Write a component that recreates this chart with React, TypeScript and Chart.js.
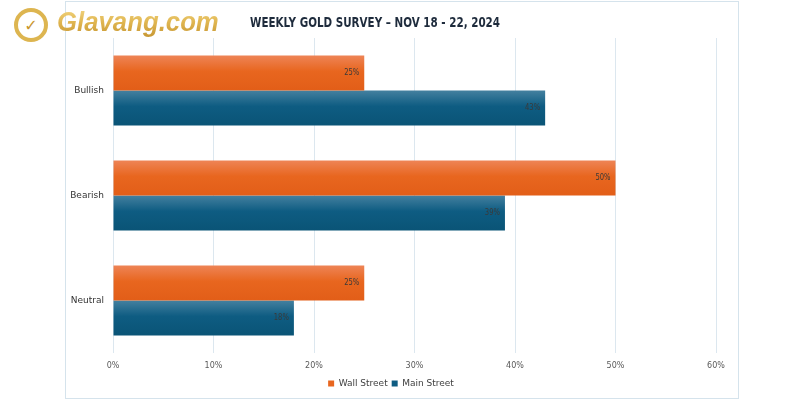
import React, { useEffect, useRef } from "react";
import { Chart, registerables } from "chart.js";

Chart.register(...registerables);

const categories = ["Bullish", "Bearish", "Neutral"];
const wallStreet = [25, 50, 25];
const mainStreet = [43, 39, 18];
const seriesNames = ["Wall Street", "Main Street"];
const seriesColors = ["#E8661F", "#0E5C82"];
const xTicks = [0, 10, 20, 30, 40, 50, 60];
const titleText = "WEEKLY GOLD SURVEY \u2013 NOV 18 - 22, 2024";

const gradStops = [
  ["#EE8456", "#E8661F", "#E25E18"],
  ["#44809F", "#0E5C82", "#0A5476"],
];

const FONT = "'DejaVu Sans', sans-serif";

const gradientPlugin = {
  id: "barGradient",
  beforeDatasetsDraw(chart: any) {
    const ctx = chart.ctx;
    chart.data.datasets.forEach((_: any, di: number) => {
      const meta = chart.getDatasetMeta(di);
      meta.data.forEach((bar: any) => {
        const top = bar.y - bar.height / 2;
        const bot = bar.y + bar.height / 2;
        const g = ctx.createLinearGradient(0, top, 0, bot);
        g.addColorStop(0, gradStops[di][0]);
        g.addColorStop(0.45, gradStops[di][1]);
        g.addColorStop(1, gradStops[di][2]);
        bar.options = Object.assign({}, bar.options, { backgroundColor: g });
      });
    });
  },
};

const labelPlugin = {
  id: "valueLabels",
  afterDatasetsDraw(chart: any) {
    const ctx = chart.ctx;
    ctx.save();
    ctx.font = "8px " + FONT;
    ctx.fillStyle = "#3A3A3A";
    ctx.textAlign = "right";
    ctx.textBaseline = "middle";
    chart.data.datasets.forEach((ds: any, di: number) => {
      const meta = chart.getDatasetMeta(di);
      meta.data.forEach((bar: any, i: number) => {
        ctx.save();
        ctx.translate(bar.x - 5, bar.y);
        ctx.scale(0.85, 1);
        ctx.fillText(ds.data[i] + "%", 0, 0);
        ctx.restore();
      });
    });
    ctx.restore();
  },
};

const titlePlugin = {
  id: "customTitle",
  afterDraw(chart: any) {
    const ctx = chart.ctx;
    ctx.save();
    ctx.font = "bold 14px " + FONT;
    ctx.fillStyle = "#1E2B3C";
    ctx.textAlign = "center";
    ctx.textBaseline = "middle";
    const w = ctx.measureText(titleText).width;
    const target = 250;
    ctx.translate(309, 21);
    ctx.scale(Math.min(1, target / w), 1);
    ctx.fillText(titleText, 0, 0);
    ctx.restore();
  },
};

export default function App() {
  const ref = useRef<HTMLCanvasElement>(null);
  useEffect(() => {
    if (!ref.current) return;
    const chart = new Chart(ref.current, {
      type: "bar",
      data: {
        labels: categories,
        datasets: seriesNames.map((name, i) => ({
          label: name,
          data: i === 0 ? wallStreet : mainStreet,
          backgroundColor: () => seriesColors[i],
          barPercentage: 1,
          categoryPercentage: 0.667,
        })),
      },
      options: {
        indexAxis: "y",
        animation: false,
        responsive: false,
        maintainAspectRatio: false,
        layout: { padding: { top: 36, right: 22, left: 0, bottom: 0 } },
        plugins: {
          title: { display: false },
          tooltip: { enabled: false },
          legend: {
            position: "bottom",
            labels: {
              boxWidth: 6,
              boxHeight: 6,
              padding: 4,
              color: "#404040",
              generateLabels: (chart: any) =>
                chart.data.datasets.map((ds: any, i: number) => ({
                  text: ds.label,
                  fillStyle: seriesColors[i],
                  strokeStyle: seriesColors[i],
                  lineWidth: 0,
                  datasetIndex: i,
                  fontColor: "#404040",
                })),
              font: { size: 9, family: FONT },
            },
          },
        },
        scales: {
          x: {
            min: 0,
            max: 60,
            afterBuildTicks(scale: any) {
              scale.ticks = xTicks.map((v) => ({ value: v }));
            },
            afterFit(scale: any) {
              scale.height = 22;
            },
            ticks: {
              callback: (v: any) => v + "%",
              color: "#595959",
              padding: 8,
              font: { size: 8, family: FONT },
            },
            grid: { color: "#DCE7EF", drawTicks: false },
            border: { display: false },
          },
          y: {
            afterFit(scale: any) {
              scale.width = 47;
            },
            ticks: {
              color: "#333333",
              padding: 9,
              font: { size: 9, family: FONT },
            },
            grid: { display: false, drawTicks: false },
            border: { display: false },
          },
        },
      },
      plugins: [gradientPlugin, labelPlugin, titlePlugin],
    } as any);
    return () => chart.destroy();
  }, []);

  return (
    <div style={{ position: "fixed", left: 0, top: 0, width: 800, height: 400, background: "#fff" }}>
      <div
        style={{
          position: "absolute",
          left: 65,
          top: 1,
          width: 672,
          height: 396,
          border: "1px solid #D5E3EC",
        }}
      >
        <canvas ref={ref} width={672} height={396} style={{ display: "block" }} />
      </div>
      <div
        style={{
          position: "absolute",
          left: 14,
          top: 8,
          width: 34,
          height: 34,
          borderRadius: "50%",
          border: "4px solid #DDB550",
          boxSizing: "border-box",
          display: "flex",
          alignItems: "center",
          justifyContent: "center",
          color: "#C9962E",
          fontFamily: FONT,
          fontWeight: "bold",
          fontSize: 16,
          background: "#fff",
        }}
      >
        ✓
      </div>
      <span
        style={{
          position: "absolute",
          left: 57,
          top: 5,
          fontFamily: "'Liberation Sans', Arial, sans-serif",
          fontWeight: "bold",
          fontStyle: "italic",
          fontSize: 28,
          lineHeight: "34px",
          background: "linear-gradient(180deg, #F6DC8A 0%, #E0B651 50%, #C4932F 100%)",
          WebkitBackgroundClip: "text",
          backgroundClip: "text",
          color: "transparent",
          display: "inline-block",
          transform: "scaleX(0.92)",
          transformOrigin: "left center",
          whiteSpace: "nowrap",
        }}
      >
        Glavang.com
      </span>
    </div>
  );
}
